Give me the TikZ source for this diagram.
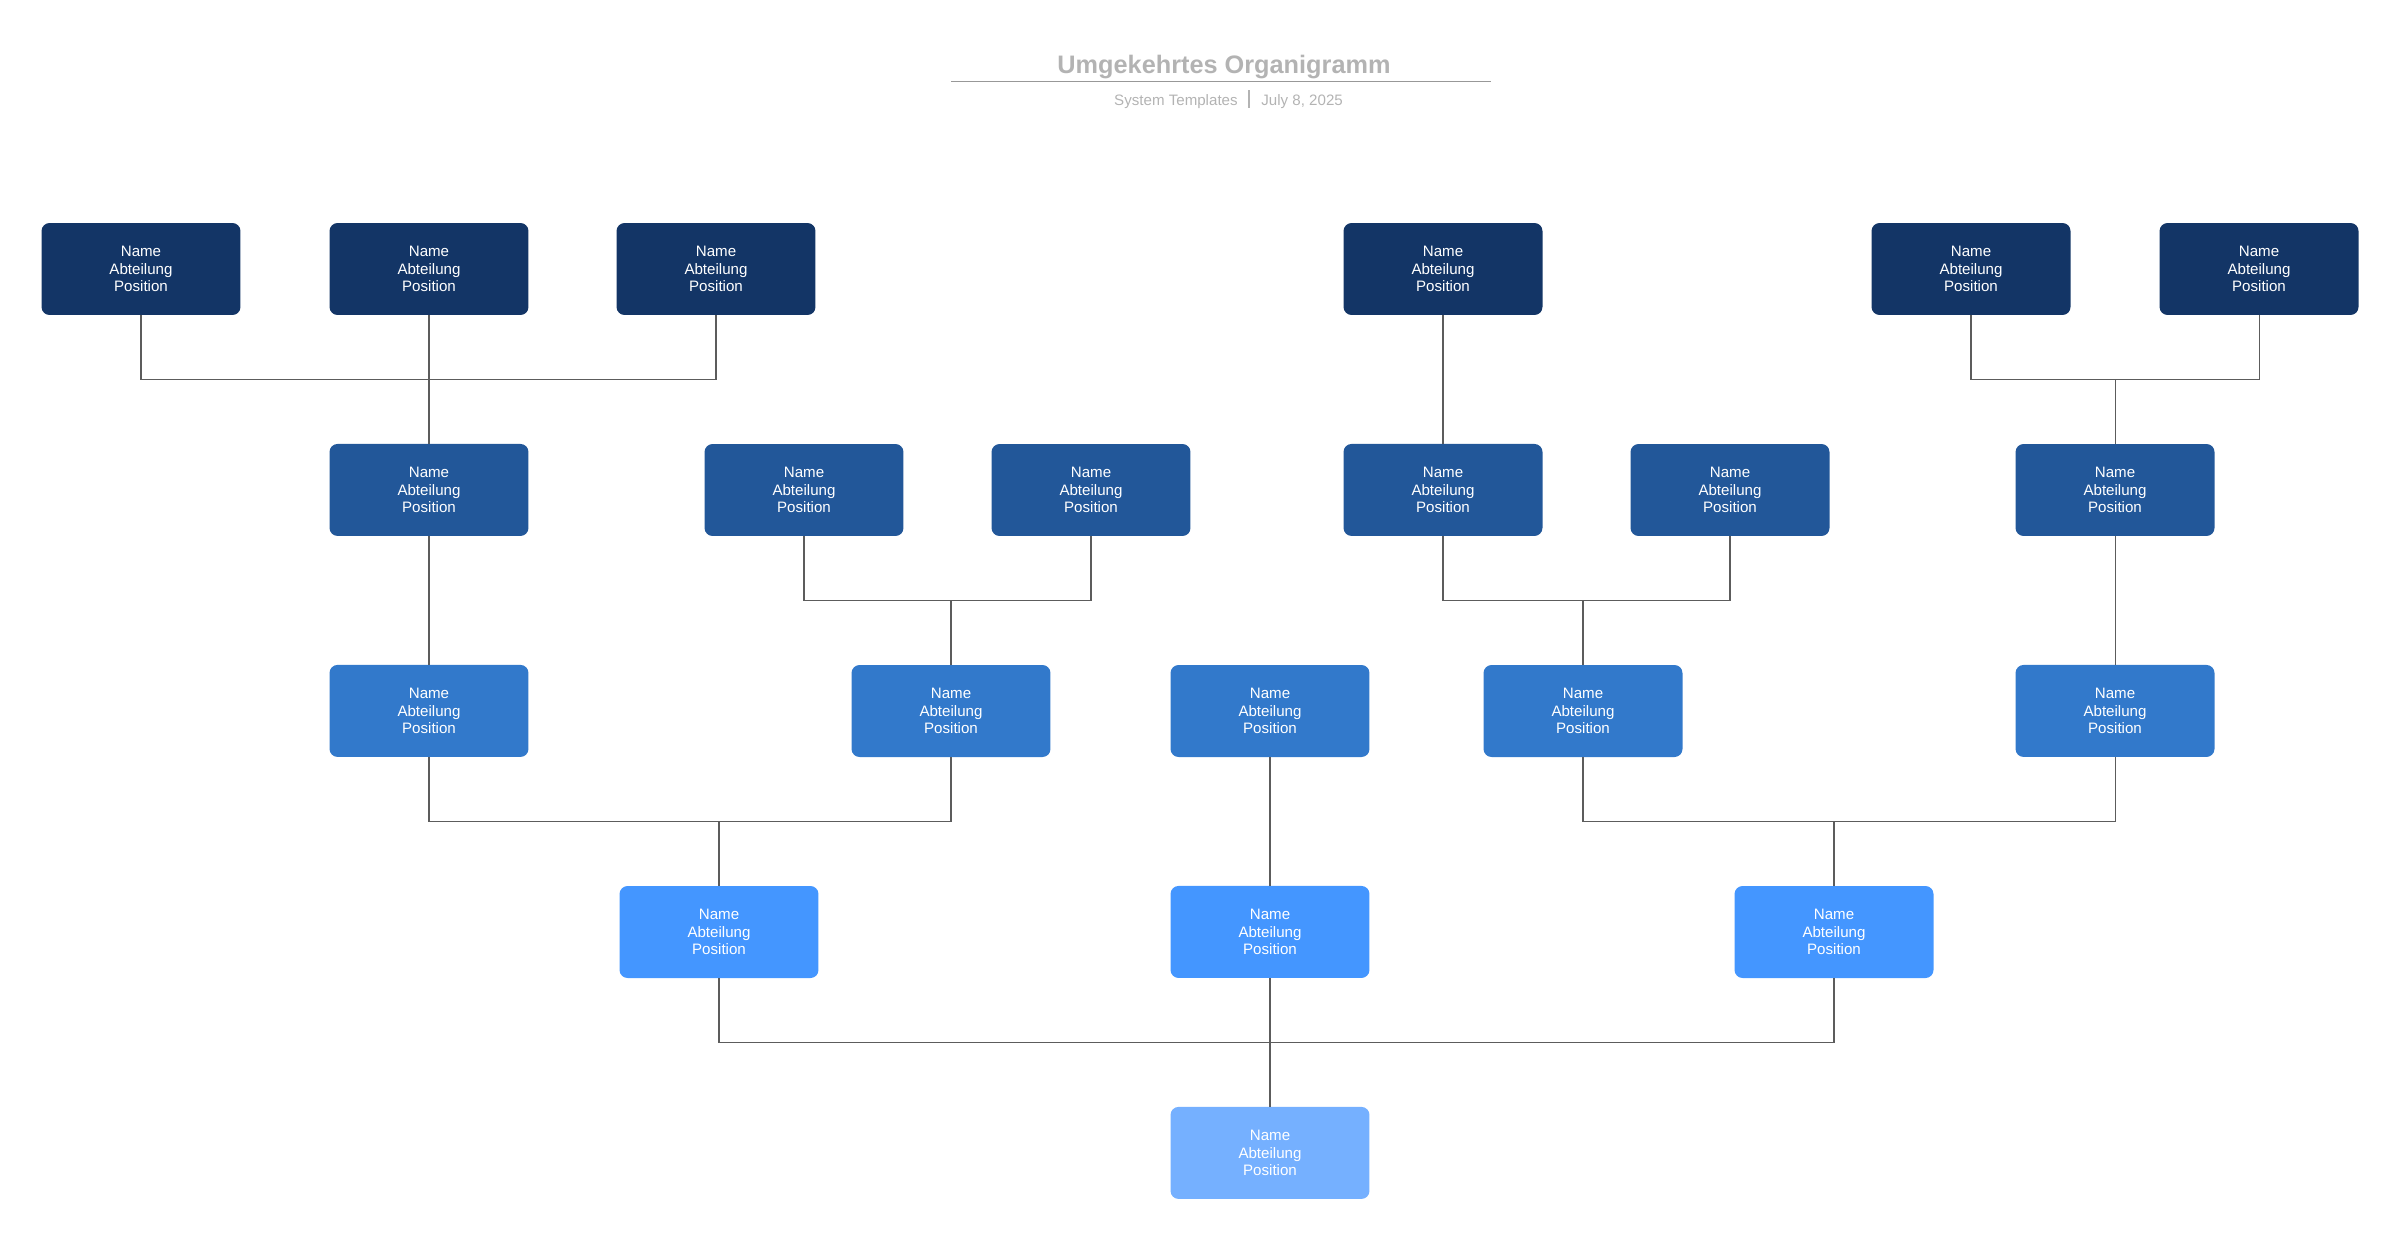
\documentclass[tikz,border=0pt]{standalone}
\usepackage{fontspec}
\setmainfont{Liberation Sans}
\usepackage{tikz}
\usetikzlibrary{positioning}
\definecolor{levelone}{HTML}{133566}
\definecolor{leveltwo}{HTML}{225799}
\definecolor{levelthree}{HTML}{3279CB}
\definecolor{levelfour}{HTML}{4496FF}
\definecolor{levelfive}{HTML}{75B0FF}
\definecolor{linegray}{HTML}{5C5C5C}
\definecolor{titlegray}{HTML}{B3B3B3}
\tikzset{
    member/.style={
           rectangle,
           rounded corners=0.16cm,
           minimum width=3.98cm,
           minimum height=1.84cm,
           inner sep=2pt,
           align=center,
           text=white,
           font=\fontsize{8.6}{9.9}\selectfont,
           },
    link/.style={
           draw=linegray,
           line width=0.6pt,
           },
}

\begin{document}
\begin{tikzpicture}[x=0.02cm,y=-0.02cm]

 \useasboundingbox (0,0) rectangle (2400,1241);

 % header: title, rule and subtitle
 \node[anchor=base, inner sep=0, text=titlegray,
  font=\fontsize{14.4}{16}\selectfont\bfseries] (title) at (1224,73)
  {Umgekehrtes Organigramm};
 \draw[titlegray!85!black, line width=1.1pt] (951,81.5) -- (1491,81.5);
 \node[anchor=base east, inner sep=0, text=titlegray,
  font=\fontsize{8.6}{10}\selectfont] (source) at (1238,105)
  {System Templates};
 \node[anchor=base west, inner sep=0, text=titlegray,
  font=\fontsize{8.6}{10}\selectfont] (date) at (1261,105)
  {July 8, 2025};
 \draw[titlegray, line width=0.6pt] (1249,90) -- (1249,108);

 % first row (darkest)
 \node[member, fill=levelone] (A1) at (141,269) {Name\\Abteilung\\Position};
 \node[member, fill=levelone] (A2) at (429,269) {Name\\Abteilung\\Position};
 \node[member, fill=levelone] (A3) at (716,269) {Name\\Abteilung\\Position};
 \node[member, fill=levelone] (A4) at (1443,269) {Name\\Abteilung\\Position};
 \node[member, fill=levelone] (A5) at (1971,269) {Name\\Abteilung\\Position};
 \node[member, fill=levelone] (A6) at (2259,269) {Name\\Abteilung\\Position};

 % second row
 \node[member, fill=leveltwo,
  below of=A2,
  node distance=4.42cm,
  anchor=center] (B1) {Name\\Abteilung\\Position};
 \node[member, fill=leveltwo] (B2) at (804,490) {Name\\Abteilung\\Position};
 \node[member, fill=leveltwo] (B3) at (1091,490) {Name\\Abteilung\\Position};
 \node[member, fill=leveltwo,
  below of=A4,
  node distance=4.42cm,
  anchor=center] (B4) {Name\\Abteilung\\Position};
 \node[member, fill=leveltwo] (B5) at (1730,490) {Name\\Abteilung\\Position};
 \node[member, fill=leveltwo] (B6) at (2115,490) {Name\\Abteilung\\Position};

 % third row
 \node[member, fill=levelthree,
  below of=B1,
  node distance=4.42cm,
  anchor=center] (C1) {Name\\Abteilung\\Position};
 \node[member, fill=levelthree] (C2) at (951,711) {Name\\Abteilung\\Position};
 \node[member, fill=levelthree] (C3) at (1270,711) {Name\\Abteilung\\Position};
 \node[member, fill=levelthree] (C4) at (1583,711) {Name\\Abteilung\\Position};
 \node[member, fill=levelthree,
  below of=B6,
  node distance=4.42cm,
  anchor=center] (C5) {Name\\Abteilung\\Position};

 % fourth row
 \node[member, fill=levelfour] (D1) at (719,932) {Name\\Abteilung\\Position};
 \node[member, fill=levelfour,
  below of=C3,
  node distance=4.42cm,
  anchor=center] (D2) {Name\\Abteilung\\Position};
 \node[member, fill=levelfour] (D3) at (1834,932) {Name\\Abteilung\\Position};

 % bottom (lightest)
 \node[member, fill=levelfive,
  below of=D2,
  node distance=4.42cm,
  anchor=center] (E1) {Name\\Abteilung\\Position};

 % connectors, elbow halfway between the rows
 \draw[link] (A1.south) -- ++(0,64) -| (B1.north);
 \draw[link] (A3.south) -- ++(0,64) -| (B1.north);
 \draw[link] (A2.south) -- (B1.north);
 \draw[link] (A4.south) -- (B4.north);
 \draw[link] (A5.south) -- ++(0,64) -| (B6.north);
 \draw[link] (A6.south) -- ++(0,64) -| (B6.north);

 \draw[link] (B1.south) -- (C1.north);
 \draw[link] (B2.south) -- ++(0,64) -| (C2.north);
 \draw[link] (B3.south) -- ++(0,64) -| (C2.north);
 \draw[link] (B4.south) -- ++(0,64) -| (C4.north);
 \draw[link] (B5.south) -- ++(0,64) -| (C4.north);
 \draw[link] (B6.south) -- (C5.north);

 \draw[link] (C1.south) -- ++(0,64) -| (D1.north);
 \draw[link] (C2.south) -- ++(0,64) -| (D1.north);
 \draw[link] (C3.south) -- (D2.north);
 \draw[link] (C4.south) -- ++(0,64) -| (D3.north);
 \draw[link] (C5.south) -- ++(0,64) -| (D3.north);

 \draw[link] (D1.south) -- ++(0,64) -| (E1.north);
 \draw[link] (D3.south) -- ++(0,64) -| (E1.north);
 \draw[link] (D2.south) -- (E1.north);

\end{tikzpicture}
\end{document}
